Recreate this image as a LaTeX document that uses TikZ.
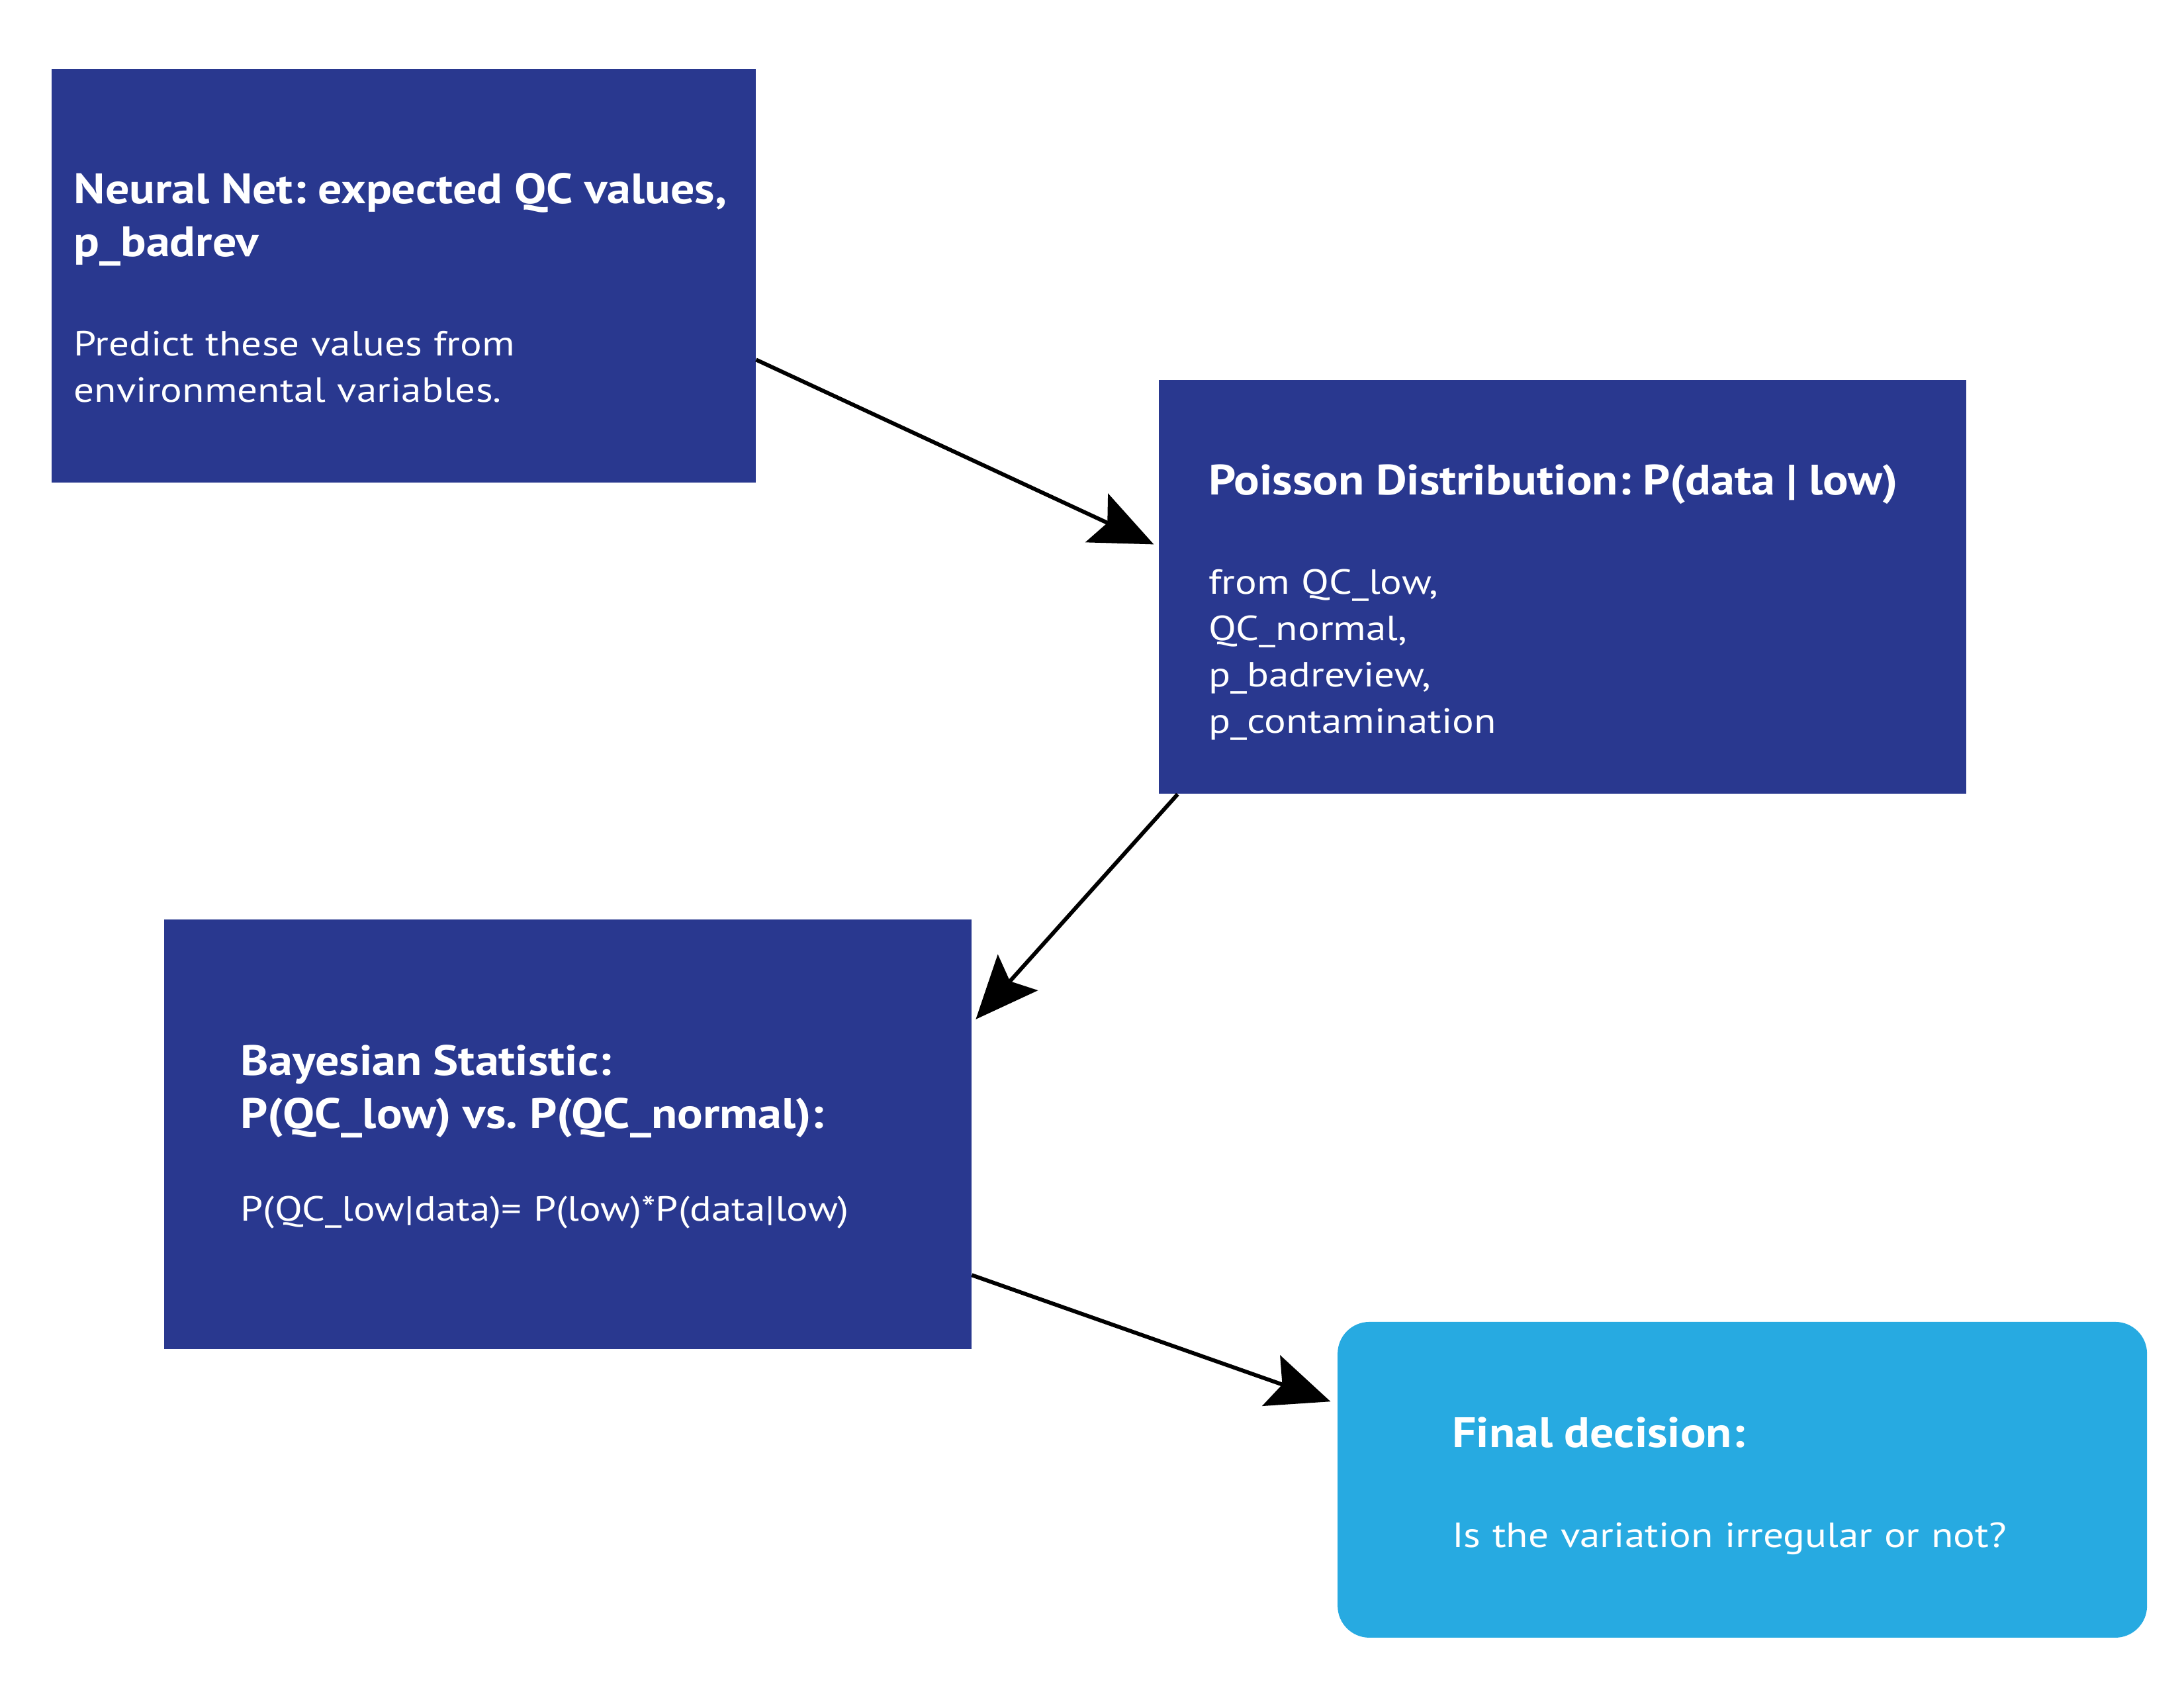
\documentclass[tikz,border=0pt]{standalone}
\usepackage{fontspec}
\setmainfont{PT Sans}[FakeStretch=1.16]
\newfontfamily\qcheadfont{PT Sans}[FakeStretch=1.12]
\usepackage{tikz}
\usetikzlibrary{arrows.meta,positioning}
\setlength{\parindent}{0pt}
\frenchspacing
\definecolor{qcnavy}{HTML}{29388F}
\definecolor{qcsky}{HTML}{27AAE1}
\newcommand{\qchead}[2][22.8pt]{{\qcheadfont\fontsize{18.3}{22.8}\selectfont\bfseries #2\par}\vspace{#1}}
\tikzset{
  qcbox/.style    = {rectangle, fill=qcnavy, text=white, align=left, inner sep=0pt,
                     font=\fontsize{15}{19.9}\selectfont},
  qcend/.style    = {qcbox, fill=qcsky, rounded corners=0.48cm},
  firstline/.style = {text height=0pt, text depth=#1},
  qcarrow/.style  = {-{Stealth[length=27pt, width=23pt, inset=5pt]}, line width=1.7pt, black},
}

\begin{document}
\begin{tikzpicture}
\useasboundingbox (0,0) rectangle (33,-25.5);

\node[qcbox, minimum width=10.64cm, minimum height=6.25cm, text width=9.96cm, firstline=2.17cm,
      anchor=north west] (neural) at (0.77,-1.03)
  {\qchead{Neural Net: expected QC values,\\p\_badrev}Predict these values from\\environmental variables.};
\node[qcbox, minimum width=12.2cm, minimum height=6.25cm, text width=10.7cm, firstline=2.79cm,
      below right=-1.56cm and 6.08cm of neural.south east] (pois)
  {\qchead{Poisson Distribution: P(data | low)}from QC\_low,\\QC\_normal,\\p\_badreview,\\p\_contamination};
\node[qcbox, minimum width=12.2cm, minimum height=6.49cm, text width=9.88cm, firstline=1.77cm,
      below left=1.88cm and 2.82cm of pois.south west] (bayes)
  {\qchead[19.9pt]{Bayesian Statistic:\\P(QC\_low) vs. P(QC\_normal):}P(QC\_low|data)= P(low)*P(data|low)};
\node[qcend, minimum width=12.23cm, minimum height=4.77cm, text width=8.77cm, firstline=0.97cm,
      below right=-0.42cm and 5.52cm of bayes.south east] (final)
  {\qchead{Final decision:}Is the variation irregular or not?};

\draw[qcarrow] ([yshift=1.86cm]neural.south east) -- ([xshift=-0.07cm, yshift=-2.49cm]pois.north west);
\draw[qcarrow] ([xshift=0.29cm]pois.south west) -- ([xshift=0.06cm, yshift=-1.52cm]bayes.north east);
\draw[qcarrow] ([yshift=1.12cm]bayes.south east) -- ([xshift=-0.1cm, yshift=-1.21cm]final.north west);
\end{tikzpicture}
\end{document}
